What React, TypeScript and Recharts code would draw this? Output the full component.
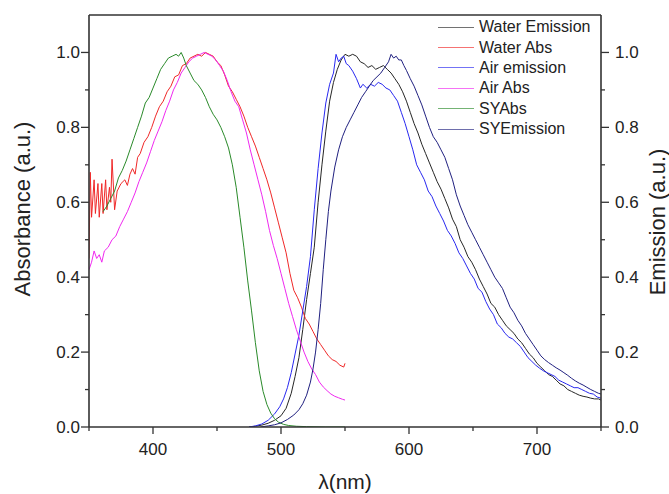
import React from 'react';
import { LineChart, Line, XAxis, YAxis, Legend } from 'recharts';

// [wavelength nm, normalised intensity]
const waterAbs: [number, number][] = [
  [350, 0.45], [351, 0.68], [352, 0.56], [354, 0.66], [355, 0.57], [357, 0.65], [358, 0.56],
  [360, 0.65], [361, 0.57], [363, 0.66], [364, 0.58], [366, 0.64], [367, 0.6], [368, 0.715],
  [370, 0.58], [372, 0.63], [375, 0.65], [378, 0.66], [380, 0.645], [382, 0.675], [384, 0.69],
  [386, 0.675], [388, 0.72], [390, 0.73], [393, 0.76], [396, 0.775], [399, 0.8], [402, 0.83],
  [405, 0.855], [408, 0.87], [411, 0.895], [414, 0.91], [417, 0.935], [420, 0.94], [423, 0.965],
  [426, 0.97], [429, 0.985], [432, 0.99], [435, 0.995], [438, 0.99], [441, 1.0], [444, 0.995],
  [447, 0.99], [450, 0.975], [453, 0.965], [456, 0.94], [459, 0.91], [462, 0.895], [465, 0.875],
  [468, 0.855], [471, 0.83], [474, 0.8], [477, 0.775], [480, 0.75], [483, 0.72], [486, 0.69],
  [489, 0.66], [492, 0.625], [495, 0.585], [498, 0.545], [501, 0.505], [504, 0.465], [507, 0.41],
  [510, 0.365], [513, 0.345], [516, 0.32], [519, 0.29], [522, 0.275], [525, 0.255], [528, 0.235],
  [531, 0.22], [534, 0.205], [537, 0.19], [540, 0.18], [543, 0.175], [546, 0.165], [549, 0.16],
  [550, 0.17],
];

const airAbs: [number, number][] = [
  [350, 0.42], [352, 0.44], [354, 0.47], [356, 0.45], [358, 0.46], [360, 0.44], [362, 0.47],
  [365, 0.48], [368, 0.5], [371, 0.51], [374, 0.535], [377, 0.555], [380, 0.575], [383, 0.6],
  [386, 0.625], [389, 0.655], [392, 0.68], [395, 0.705], [398, 0.735], [401, 0.765], [404, 0.79],
  [407, 0.815], [410, 0.845], [413, 0.87], [416, 0.9], [419, 0.92], [422, 0.945], [425, 0.96],
  [428, 0.975], [431, 0.985], [434, 0.99], [437, 0.995], [440, 1.0], [443, 0.995], [446, 0.99],
  [449, 0.98], [452, 0.965], [455, 0.95], [458, 0.925], [461, 0.895], [464, 0.87], [467, 0.855],
  [470, 0.82], [473, 0.785], [476, 0.74], [479, 0.7], [482, 0.66], [485, 0.62], [488, 0.575],
  [491, 0.525], [494, 0.485], [497, 0.45], [500, 0.41], [503, 0.37], [506, 0.33], [509, 0.295],
  [512, 0.26], [515, 0.23], [518, 0.2], [521, 0.175], [524, 0.155], [527, 0.14], [530, 0.12],
  [533, 0.107], [536, 0.097], [539, 0.088], [542, 0.082], [545, 0.078], [548, 0.074], [550, 0.072],
];

const syAbs: [number, number][] = [
  [361, 0.575], [364, 0.59], [367, 0.61], [370, 0.63], [373, 0.665], [376, 0.685], [379, 0.71],
  [382, 0.74], [385, 0.77], [388, 0.8], [391, 0.83], [394, 0.865], [397, 0.88], [400, 0.905],
  [403, 0.93], [406, 0.955], [409, 0.97], [412, 0.985], [415, 0.99], [418, 0.995], [420, 0.99],
  [422, 1.0], [424, 0.985], [426, 0.965], [429, 0.945], [432, 0.925], [435, 0.915], [438, 0.9],
  [441, 0.88], [444, 0.855], [447, 0.835], [450, 0.82], [453, 0.8], [456, 0.775], [459, 0.745],
  [462, 0.7], [465, 0.64], [468, 0.56], [471, 0.48], [474, 0.39], [477, 0.31], [480, 0.225],
  [483, 0.15], [486, 0.095], [489, 0.06], [492, 0.037], [495, 0.022], [498, 0.013], [502, 0.007],
  [506, 0.004], [512, 0.002], [520, 0.001], [535, 0], [550, 0],
];

const waterEm: [number, number][] = [
  [475, 0], [480, 0.002], [485, 0.005], [490, 0.01], [495, 0.018], [500, 0.03], [504, 0.05],
  [508, 0.09], [511, 0.135], [514, 0.185], [517, 0.26], [520, 0.34], [523, 0.41], [526, 0.48],
  [529, 0.6], [532, 0.7], [535, 0.79], [538, 0.87], [541, 0.92], [544, 0.955], [547, 0.98],
  [550, 0.995], [553, 0.99], [556, 0.995], [559, 0.99], [562, 0.975], [565, 0.97], [568, 0.96],
  [571, 0.965], [574, 0.955], [577, 0.96], [580, 0.965], [583, 0.955], [586, 0.945], [589, 0.93],
  [592, 0.915], [595, 0.895], [598, 0.87], [601, 0.84], [604, 0.81], [607, 0.785], [610, 0.755],
  [613, 0.73], [616, 0.705], [619, 0.68], [622, 0.655], [625, 0.635], [628, 0.61], [631, 0.585],
  [634, 0.555], [637, 0.535], [640, 0.5], [643, 0.48], [646, 0.455], [649, 0.44], [652, 0.42],
  [655, 0.395], [658, 0.375], [661, 0.355], [664, 0.33], [667, 0.32], [670, 0.3], [673, 0.285],
  [676, 0.27], [679, 0.26], [682, 0.25], [685, 0.235], [688, 0.225], [691, 0.21], [694, 0.195],
  [697, 0.185], [700, 0.17], [703, 0.16], [706, 0.15], [709, 0.14], [712, 0.135], [715, 0.125],
  [718, 0.115], [721, 0.11], [724, 0.1], [727, 0.095], [730, 0.09], [733, 0.085], [736, 0.082],
  [739, 0.08], [742, 0.077], [745, 0.075], [748, 0.075], [750, 0.072],
];

const airEm: [number, number][] = [
  [475, 0], [480, 0.003], [485, 0.008], [490, 0.018], [495, 0.035], [499, 0.054], [502, 0.075],
  [505, 0.105], [508, 0.145], [511, 0.195], [514, 0.245], [517, 0.31], [520, 0.375], [523, 0.455],
  [526, 0.58], [529, 0.69], [532, 0.785], [535, 0.865], [538, 0.915], [541, 0.945], [543, 0.995],
  [545, 0.975], [547, 0.985], [549, 0.99], [551, 0.97], [553, 0.965], [556, 0.95], [559, 0.93],
  [562, 0.905], [564, 0.915], [567, 0.905], [570, 0.915], [573, 0.91], [576, 0.92], [579, 0.915],
  [582, 0.905], [585, 0.9], [588, 0.885], [591, 0.87], [594, 0.84], [597, 0.81], [600, 0.775],
  [603, 0.74], [606, 0.7], [609, 0.68], [612, 0.66], [615, 0.63], [618, 0.615], [621, 0.59],
  [624, 0.57], [627, 0.55], [630, 0.525], [633, 0.51], [636, 0.49], [639, 0.465], [642, 0.45],
  [645, 0.43], [648, 0.41], [651, 0.395], [654, 0.37], [657, 0.36], [660, 0.335], [663, 0.315],
  [666, 0.3], [669, 0.275], [672, 0.265], [675, 0.25], [678, 0.24], [681, 0.235], [684, 0.225],
  [687, 0.215], [690, 0.2], [693, 0.185], [696, 0.175], [699, 0.165], [702, 0.157], [705, 0.15],
  [708, 0.145], [711, 0.14], [714, 0.135], [717, 0.125], [720, 0.12], [723, 0.115], [726, 0.11],
  [729, 0.105], [732, 0.105], [735, 0.1], [738, 0.095], [741, 0.09], [744, 0.088], [747, 0.08],
  [750, 0.077],
];

const syEm: [number, number][] = [
  [484, 0], [490, 0.003], [495, 0.006], [500, 0.011], [505, 0.02], [510, 0.032], [514, 0.046],
  [517, 0.062], [520, 0.085], [523, 0.12], [525, 0.155], [527, 0.2], [529, 0.26], [531, 0.33],
  [533, 0.42], [535, 0.5], [537, 0.575], [539, 0.63], [542, 0.694], [545, 0.74], [548, 0.775],
  [551, 0.8], [554, 0.82], [557, 0.84], [560, 0.86], [563, 0.88], [566, 0.895], [569, 0.91],
  [572, 0.925], [575, 0.935], [578, 0.945], [581, 0.96], [584, 0.975], [586, 0.995], [588, 0.985],
  [590, 0.99], [592, 0.98], [594, 0.98], [596, 0.965], [598, 0.952], [601, 0.93], [604, 0.91],
  [607, 0.885], [610, 0.86], [613, 0.83], [616, 0.8], [619, 0.775], [622, 0.76], [625, 0.74],
  [628, 0.72], [631, 0.69], [634, 0.66], [637, 0.62], [640, 0.59], [643, 0.565], [646, 0.54],
  [649, 0.52], [652, 0.5], [655, 0.48], [658, 0.46], [661, 0.44], [664, 0.42], [667, 0.4],
  [670, 0.385], [673, 0.37], [676, 0.345], [679, 0.32], [682, 0.305], [685, 0.285], [688, 0.27],
  [691, 0.25], [694, 0.235], [697, 0.22], [700, 0.205], [703, 0.19], [706, 0.18], [709, 0.172],
  [712, 0.165], [715, 0.158], [718, 0.152], [721, 0.145], [724, 0.138], [727, 0.13], [730, 0.123],
  [733, 0.117], [736, 0.112], [739, 0.106], [742, 0.1], [745, 0.095], [748, 0.09], [750, 0.088],
];

const seriesNames = ['Water Emission', 'Water Abs', 'Air emission', 'Air Abs', 'SYAbs', 'SYEmission'];
const seriesColors = ['#262626', '#f02828', '#2828f0', '#f028f0', '#2a8a2a', '#202080'];
const xTicks = [350, 400, 450, 500, 550, 600, 650, 700, 750];
const xLabelled = [400, 500, 600, 700];
const yTicks = [0, 0.1, 0.2, 0.3, 0.4, 0.5, 0.6, 0.7, 0.8, 0.9, 1.0];

const FONT = '"Liberation Sans", Arial, sans-serif';
const AXIS = '#333';

const toRows = (pairs: [number, number][]) => pairs.map(([nm, v]) => ({ nm, v }));

const XTick = (props: any) => {
  const { x, y, payload } = props;
  const major = xLabelled.includes(payload.value);
  return (
    <g>
      <line x1={x} x2={x} y1={y} y2={y + (major ? 7 : 4)} stroke={AXIS} strokeWidth={1.3} />
      {major && (
        <text x={x} y={y + 28} textAnchor="middle" fontSize={17} fontFamily={FONT} fill="#222">
          {payload.value}
        </text>
      )}
    </g>
  );
};

const YTickLeft = (props: any) => {
  const { x, y, payload, index } = props;
  const major = index % 2 === 0;
  return (
    <g>
      <line x1={x - (major ? 8 : 4)} x2={x} y1={y} y2={y} stroke={AXIS} strokeWidth={1.3} />
      {major && (
        <text x={x - 9} y={y + 6} textAnchor="end" fontSize={17} fontFamily={FONT} fill="#222">
          {payload.value.toFixed(1)}
        </text>
      )}
    </g>
  );
};

const YTickRight = (props: any) => {
  const { x, y, payload, index } = props;
  const major = index % 2 === 0;
  return (
    <g>
      <line x1={x} x2={x + (major ? 8 : 4)} y1={y} y2={y} stroke={AXIS} strokeWidth={1.3} />
      {major && (
        <text x={x + 14} y={y + 6} textAnchor="start" fontSize={17} fontFamily={FONT} fill="#222">
          {payload.value.toFixed(1)}
        </text>
      )}
    </g>
  );
};

const LegendBox = () => (
  <div style={{ fontFamily: FONT, fontSize: 16, color: '#222' }}>
    {seriesNames.map((name, i) => (
      <div key={name} style={{ display: 'flex', alignItems: 'center', height: 20.4 }}>
        <span
          style={{ display: 'inline-block', width: 36, height: 1, background: seriesColors[i], opacity: 0.65, marginRight: 5 }}
        />
        <span>{name}</span>
      </div>
    ))}
  </div>
);

export default function App() {
  const common = {
    type: 'linear' as const,
    dataKey: 'v',
    dot: false,
    activeDot: false,
    strokeWidth: 1,
    isAnimationActive: false,
  };
  return (
    <div style={{ position: 'absolute', left: 0, top: 0, width: 669, height: 494, background: '#fff' }}>
      <LineChart width={669} height={494} margin={{ top: 14, right: 8, bottom: 7, left: 29 }}>
        <XAxis
          xAxisId="b"
          dataKey="nm"
          type="number"
          domain={[350, 750]}
          ticks={xTicks}
          interval={0}
          height={60}
          tickSize={0}
          tickMargin={0}
          tickLine={false}
          tick={<XTick />}
          axisLine={{ stroke: AXIS, strokeWidth: 1.6 }}
          allowDataOverflow
          label={{
            content: (p: any) => (
              <text
                x={p.viewBox.x + p.viewBox.width / 2}
                y={p.viewBox.y + 62}
                textAnchor="middle"
                fontSize={21}
                fontFamily={FONT}
                fill="#222"
              >
                λ(nm)
              </text>
            ),
          }}
        />
        <XAxis
          xAxisId="t"
          orientation="top"
          type="number"
          domain={[350, 750]}
          height={1}
          tick={false}
          tickLine={false}
          axisLine={{ stroke: AXIS, strokeWidth: 1.6 }}
        />
        <YAxis
          yAxisId="l"
          domain={[0, 1.1]}
          ticks={yTicks}
          interval={0}
          width={60}
          tickSize={0}
          tickMargin={0}
          tickLine={false}
          tick={<YTickLeft />}
          axisLine={{ stroke: AXIS, strokeWidth: 1.6 }}
          allowDataOverflow
          label={{
            content: (p: any) => {
              const cx = p.viewBox.x + p.viewBox.width - 67;
              const cy = p.viewBox.y + p.viewBox.height / 2 - 12;
              return (
                <text
                  x={cx}
                  y={cy}
                  textAnchor="middle"
                  dominantBaseline="central"
                  fontSize={22}
                  fontFamily={FONT}
                  fill="#222"
                  transform={`rotate(-90 ${cx} ${cy})`}
                >
                  Absorbance (a.u.)
                </text>
              );
            },
          }}
        />
        <YAxis
          yAxisId="r"
          orientation="right"
          domain={[0, 1.1]}
          ticks={yTicks}
          interval={0}
          width={60}
          tickSize={0}
          tickMargin={0}
          tickLine={false}
          tick={<YTickRight />}
          axisLine={{ stroke: AXIS, strokeWidth: 1.6 }}
          allowDataOverflow
          label={{
            content: (p: any) => {
              const cx = p.viewBox.x + 56;
              const cy = p.viewBox.y + p.viewBox.height / 2 + 1;
              return (
                <text
                  x={cx}
                  y={cy}
                  textAnchor="middle"
                  dominantBaseline="central"
                  fontSize={22}
                  fontFamily={FONT}
                  fill="#222"
                  transform={`rotate(-90 ${cx} ${cy})`}
                >
                  Emission (a.u.)
                </text>
              );
            },
          }}
        />
        <Legend
          layout="horizontal"
          verticalAlign="middle"
          align="center"
          content={<LegendBox />}
          wrapperStyle={{ position: 'absolute', left: 438, top: 17, width: 170 }}
        />
        <Line {...common} xAxisId="b" yAxisId="r" data={toRows(waterEm)} name={seriesNames[0]} stroke={seriesColors[0]} />
        <Line {...common} xAxisId="b" yAxisId="l" data={toRows(waterAbs)} name={seriesNames[1]} stroke={seriesColors[1]} />
        <Line {...common} xAxisId="b" yAxisId="r" data={toRows(airEm)} name={seriesNames[2]} stroke={seriesColors[2]} />
        <Line {...common} xAxisId="b" yAxisId="l" data={toRows(airAbs)} name={seriesNames[3]} stroke={seriesColors[3]} />
        <Line {...common} xAxisId="b" yAxisId="l" data={toRows(syAbs)} name={seriesNames[4]} stroke={seriesColors[4]} />
        <Line {...common} xAxisId="b" yAxisId="r" data={toRows(syEm)} name={seriesNames[5]} stroke={seriesColors[5]} />
      </LineChart>
    </div>
  );
}
